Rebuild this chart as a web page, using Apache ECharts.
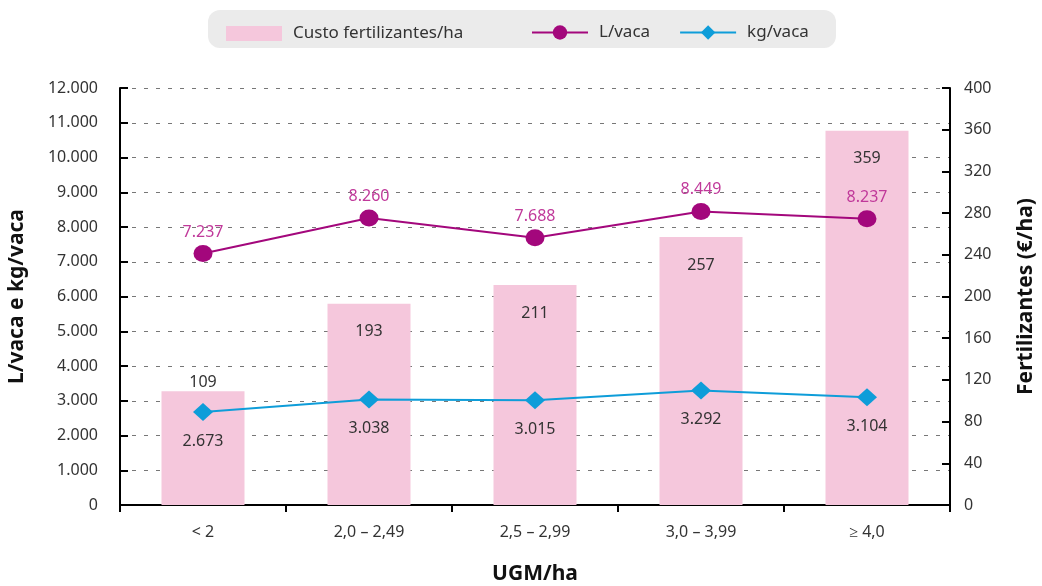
<!DOCTYPE html>
<html>
<head>
<meta charset="utf-8">
<script src="https://cdn.jsdelivr.net/npm/echarts@6/dist/echarts.min.js"></script>
<style>
  html, body { margin: 0; padding: 0; background: #fff; }
  #chart { width: 1042px; height: 586px; }
</style>
</head>
<body>
<div id="chart"></div>
<script>
var categories = ['< 2', '2,0 – 2,49', '2,5 – 2,99', '3,0 – 3,99', '≥ 4,0']
var custoFert = [109, 193, 211, 257, 359]
var litrosVaca = [7237, 8260, 7688, 8449, 8237]
var kgVaca = [2673, 3038, 3015, 3292, 3104]

var FONT = 'Noto Sans'

// formato 12.000
function fmt(v) {
  return String(v).replace(/\B(?=(\d{3})+(?!\d))/g, '.')
}

var chart = echarts.init(document.getElementById('chart'))

var legendBase = {
  top: 25,
  padding: 0,
  itemWidth: 56,
  itemHeight: 15,
  textStyle: { fontSize: 17, color: '#333', fontFamily: FONT, padding: [0, 0, 0, 6] }
}

var option = {
  animation: false,
  textStyle: { fontFamily: FONT },
  // fundo cinzento da legenda
  graphic: [
    {
      type: 'rect',
      left: 208,
      top: 10,
      z: 0,
      shape: { width: 628, height: 38, r: 12 },
      style: { fill: '#ebebeb' }
    }
  ],
  legend: [
    Object.assign({}, legendBase, {
      left: 226,
      data: [{ name: 'Custo fertilizantes/ha', icon: 'rect' }]
    }),
    Object.assign({}, legendBase, {
      left: 531,
      top: 24,
      itemGap: 29,
      itemHeight: 18,
      data: ['L/vaca', 'kg/vaca']
    })
  ],
  grid: { left: 120, right: 92, top: 88, bottom: 81, outerBoundsMode: 'none' },
  xAxis: {
    type: 'category',
    data: categories,
    name: 'UGM/ha',
    nameLocation: 'middle',
    nameGap: 59,
    nameTextStyle: { fontSize: 21, fontWeight: 'bold', color: '#111' },
    axisLine: { lineStyle: { color: '#000', width: 2 } },
    axisTick: { show: true, length: 7, lineStyle: { color: '#000', width: 2 } },
    axisLabel: { fontSize: 16, color: '#333', margin: 19 }
  },
  yAxis: [
    {
      type: 'value',
      min: 0,
      max: 12000,
      interval: 1000,
      name: 'L/vaca e kg/vaca',
      nameLocation: 'middle',
      nameGap: 92,
      nameTextStyle: { fontSize: 21, fontWeight: 'bold', color: '#111' },
      axisLine: { show: true, lineStyle: { color: '#000', width: 2 } },
      axisTick: { show: true, inside: true, length: 8, lineStyle: { color: '#000', width: 2 } },
      axisLabel: { fontSize: 16, color: '#333', margin: 22, formatter: fmt },
      splitLine: { show: true, lineStyle: { color: '#777', type: [4, 8], width: 1 } }
    },
    {
      type: 'value',
      min: 0,
      max: 400,
      interval: 40,
      name: 'Fertilizantes (€/ha)',
      nameLocation: 'middle',
      nameGap: 66,
      nameTextStyle: { fontSize: 21, fontWeight: 'bold', color: '#111' },
      axisLine: { show: true, lineStyle: { color: '#000', width: 2 } },
      axisTick: { show: true, inside: true, length: 8, lineStyle: { color: '#000', width: 2 } },
      axisLabel: { fontSize: 16, color: '#333', margin: 14 },
      splitLine: { show: false }
    }
  ],
  series: [
    {
      name: 'Custo fertilizantes/ha',
      type: 'bar',
      yAxisIndex: 1,
      barWidth: '50%',
      itemStyle: { color: '#f5c7dc' },
      data: custoFert.map(function (v, i) {
        return {
          value: v,
          label: i === 0
            ? { position: 'top', distance: 1 }
            : { position: 'insideTop', distance: 20 }
        }
      }),
      label: { show: true, fontSize: 16, color: '#333' }
    },
    {
      name: 'L/vaca',
      type: 'line',
      yAxisIndex: 0,
      data: litrosVaca,
      symbol: 'circle',
      symbolSize: [19, 17],
      itemStyle: { color: '#a3077c' },
      lineStyle: { color: '#a3077c', width: 2 },
      label: {
        show: true,
        position: 'top',
        distance: 5,
        fontSize: 16,
        color: '#c0399a',
        formatter: function (p) { return fmt(p.value) }
      }
    },
    {
      name: 'kg/vaca',
      type: 'line',
      yAxisIndex: 0,
      data: kgVaca,
      symbol: 'diamond',
      symbolSize: [20, 18],
      itemStyle: { color: '#0e9dd9' },
      lineStyle: { color: '#0e9dd9', width: 2 },
      label: {
        show: true,
        position: 'bottom',
        distance: 12,
        fontSize: 16,
        color: '#333',
        formatter: function (p) { return fmt(p.value) }
      }
    }
  ]
}

chart.setOption(option)
</script>
</body>
</html>
